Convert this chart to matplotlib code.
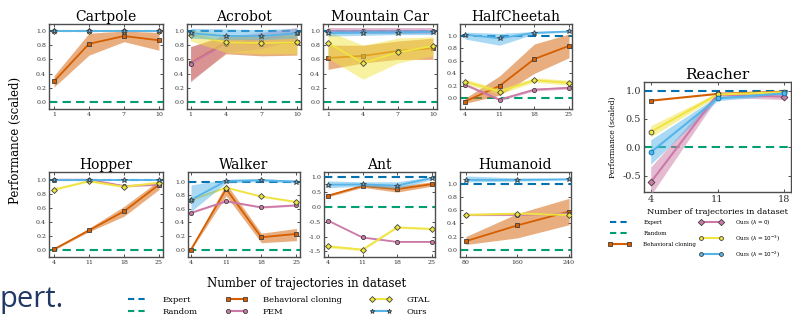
import matplotlib
matplotlib.use("Agg")
import matplotlib.pyplot as plt
from matplotlib.lines import Line2D

plt.rcParams['font.family'] = ['DejaVu Serif']

# colours
C_EXPERT = '#0072B2'
C_RANDOM = '#009E73'
C_BC = '#D55E00'
C_FEM = '#CC79A7'
C_GTAL = '#F0E442'
C_OURS = '#56B4E9'

# ---------------- data ----------------
cartpole_x = [1, 4, 7, 10]
cartpole_ours = [1.0, 1.0, 1.0, 1.0]
cartpole_ours_lo = [0.99, 0.99, 0.99, 0.99]
cartpole_ours_hi = [1.01, 1.01, 1.01, 1.01]
cartpole_bc = [0.29, 0.82, 0.93, 0.87]
cartpole_bc_lo = [0.21, 0.66, 0.85, 0.73]
cartpole_bc_hi = [0.37, 0.97, 1.0, 0.98]
cartpole_fem = [1.0, 1.0, 1.0, 1.0]
cartpole_gtal = [1.0, 1.0, 1.0, 1.0]

acrobot_x = [1, 4, 7, 10]
acrobot_ours = [0.97, 0.93, 0.93, 0.97]
acrobot_ours_lo = [0.90, 0.88, 0.88, 0.90]
acrobot_ours_hi = [1.04, 1.03, 1.02, 1.04]
acrobot_gtal = [0.95, 0.84, 0.83, 0.84]
acrobot_gtal_lo = [0.86, 0.70, 0.68, 0.68]
acrobot_gtal_hi = [1.02, 0.95, 0.95, 0.96]
acrobot_bc = [0.55, 0.84, 0.82, 0.84]
acrobot_bc_lo = [0.30, 0.68, 0.65, 0.66]
acrobot_bc_hi = [0.78, 0.95, 0.93, 0.95]
acrobot_fem = [0.54, 0.82, 0.88, 0.98]
acrobot_fem_lo = [0.28, 0.70, 0.75, 0.88]
acrobot_fem_hi = [0.78, 0.92, 0.98, 1.05]

mcar_x = [1, 4, 7, 10]
mcar_ours = [0.97, 0.98, 0.98, 0.99]
mcar_ours_lo = [0.93, 0.94, 0.95, 0.95]
mcar_ours_hi = [1.02, 1.02, 1.02, 1.02]
mcar_fem = [1.0, 1.0, 1.0, 1.0]
mcar_fem_lo = [0.96, 0.96, 0.96, 0.96]
mcar_fem_hi = [1.04, 1.04, 1.04, 1.04]
mcar_bc = [0.62, 0.65, 0.72, 0.76]
mcar_bc_lo = [0.46, 0.55, 0.60, 0.60]
mcar_bc_hi = [0.80, 0.80, 0.86, 0.90]
mcar_gtal = [0.83, 0.55, 0.70, 0.79]
mcar_gtal_lo = [0.62, 0.32, 0.55, 0.65]
mcar_gtal_hi = [1.0, 0.80, 0.90, 0.92]

cheetah_x = [4, 11, 18, 25]
cheetah_ours = [1.02, 0.96, 1.05, 1.07]
cheetah_ours_lo = [0.95, 0.85, 1.03, 1.06]
cheetah_ours_hi = [1.06, 1.04, 1.07, 1.08]
cheetah_bc = [-0.05, 0.20, 0.63, 0.84]
cheetah_bc_lo = [-0.08, 0.05, 0.40, 0.65]
cheetah_bc_hi = [0.0, 0.36, 0.87, 1.03]
cheetah_gtal = [0.27, 0.11, 0.29, 0.25]
cheetah_gtal_lo = [0.23, 0.07, 0.26, 0.21]
cheetah_gtal_hi = [0.31, 0.15, 0.33, 0.29]
cheetah_fem = [0.22, -0.02, 0.14, 0.17]
cheetah_fem_lo = [0.20, -0.04, 0.12, 0.15]
cheetah_fem_hi = [0.24, 0.0, 0.16, 0.19]

hopper_x = [4, 11, 18, 25]
hopper_ours = [1.0, 1.0, 1.0, 1.0]
hopper_fem = [1.0, 1.0, 0.91, 0.93]
hopper_gtal = [0.86, 0.98, 0.90, 0.96]
hopper_bc = [0.01, 0.28, 0.55, 0.93]
hopper_bc_lo = [0.0, 0.26, 0.48, 0.86]
hopper_bc_hi = [0.02, 0.31, 0.62, 0.99]

walker_x = [4, 11, 18, 25]
walker_ours = [0.73, 1.01, 1.02, 1.0]
walker_ours_lo = [0.56, 0.98, 1.0, 0.98]
walker_ours_hi = [0.95, 1.03, 1.04, 1.02]
walker_gtal = [0.73, 0.91, 0.78, 0.70]
walker_fem = [0.54, 0.71, 0.62, 0.65]
walker_bc = [0.0, 0.89, 0.18, 0.23]
walker_bc_lo = [-0.01, 0.79, 0.10, 0.13]
walker_bc_hi = [0.01, 0.97, 0.24, 0.31]

ant_x = [4, 11, 18, 25]
ant_ours = [0.75, 0.76, 0.72, 0.98]
ant_ours_lo = [0.65, 0.70, 0.62, 0.92]
ant_ours_hi = [0.88, 0.85, 0.85, 1.02]
ant_bc = [0.38, 0.71, 0.60, 0.77]
ant_bc_lo = [0.34, 0.66, 0.50, 0.70]
ant_bc_hi = [0.42, 0.76, 0.70, 0.85]
ant_fem = [-0.46, -1.03, -1.18, -1.18]
ant_gtal = [-1.33, -1.44, -0.69, -0.74]
ant_gtal_lo = [-1.38, -1.48, -0.72, -0.77]
ant_gtal_hi = [-1.28, -1.40, -0.66, -0.71]

humanoid_x = [80, 160, 240]
humanoid_ours = [1.06, 1.06, 1.07]
humanoid_ours_lo = [1.03, 1.04, 1.06]
humanoid_ours_hi = [1.12, 1.09, 1.08]
humanoid_gtal = [0.53, 0.55, 0.53]
humanoid_fem = [0.53, 0.53, 0.55]
humanoid_bc = [0.13, 0.37, 0.58]
humanoid_bc_lo = [0.08, 0.18, 0.38]
humanoid_bc_hi = [0.20, 0.55, 0.78]

reacher_x = [4, 11, 18]
reacher_bc = [0.82, 0.94, 0.98]
reacher_lam0 = [-0.62, 0.93, 0.89]
reacher_lam0_lo = [-0.85, 0.88, 0.84]
reacher_lam0_hi = [-0.35, 0.97, 0.95]
reacher_lam3 = [0.27, 0.93, 0.97]
reacher_lam3_lo = [0.18, 0.90, 0.95]
reacher_lam3_hi = [0.38, 0.96, 0.99]
reacher_lam2 = [-0.09, 0.86, 0.95]
reacher_lam2_lo = [-0.30, 0.82, 0.92]
reacher_lam2_hi = [0.13, 0.90, 0.98]


def band(vals, d=0.012):
    return [v - d for v in vals], [v + d for v in vals]


STYLE = {
    'bc': dict(color=C_BC, marker='s', ms=3.2, z=3),
    'fem': dict(color=C_FEM, marker='o', ms=3.0, z=4),
    'gtal': dict(color=C_GTAL, marker='D', ms=3.0, z=5),
    'ours': dict(color=C_OURS, marker='*', ms=4.0, z=6),
}


def draw_series(ax, x, key, mean, lo=None, hi=None, lw=1.3):
    s = STYLE[key]
    if lo is None:
        lo, hi = band(mean)
    ax.fill_between(x, lo, hi, color=s['color'], alpha=0.5, lw=0, zorder=s['z'] - 0.5)
    ax.plot(x, mean, color=s['color'], lw=lw, marker=s['marker'], ms=s['ms'],
            mfc=s['color'], mec='0.25', mew=0.6, zorder=s['z'])


def style_axes(ax, title, xticks, xlim, ylim, yticks, tsize=10, lsize=4.5):
    ax.axhline(1.0, color=C_EXPERT, ls='--', lw=1.5, dashes=(4, 2.5), zorder=2)
    ax.axhline(0.0, color=C_RANDOM, ls='--', lw=1.5, dashes=(4, 2.5), zorder=2)
    ax.set_title(title, fontsize=tsize, pad=2)
    ax.set_xticks(xticks)
    ax.set_yticks(yticks)
    ax.set_yticklabels(['%.1f' % t for t in yticks])
    ax.set_xlim(*xlim)
    ax.set_ylim(*ylim)
    ax.tick_params(direction='in', top=True, right=True, length=2.5, width=0.6,
                   labelsize=lsize, pad=2, colors='0.2')
    for sp in ax.spines.values():
        sp.set_color('0.3')
        sp.set_linewidth(1.0)


W, H = 792, 320
fig = plt.figure(figsize=(W / 100, H / 100), dpi=100)


def axes_px(x0, y0, x1, y1):
    return fig.add_axes([x0 / W, 1 - y1 / H, (x1 - x0) / W, (y1 - y0) / H])


y01 = [0.0, 0.2, 0.4, 0.6, 0.8, 1.0]

# Cartpole
ax = axes_px(49, 24, 163, 109)
draw_series(ax, cartpole_x, 'bc', cartpole_bc, cartpole_bc_lo, cartpole_bc_hi)
draw_series(ax, cartpole_x, 'fem', cartpole_fem)
draw_series(ax, cartpole_x, 'gtal', cartpole_gtal)
draw_series(ax, cartpole_x, 'ours', cartpole_ours, cartpole_ours_lo, cartpole_ours_hi)
style_axes(ax, 'Cartpole', cartpole_x, (0.57, 10.35), (-0.1, 1.1), y01)

# Acrobot
ax = axes_px(187, 24, 301, 109)
draw_series(ax, acrobot_x, 'bc', acrobot_bc, acrobot_bc_lo, acrobot_bc_hi)
draw_series(ax, acrobot_x, 'fem', acrobot_fem, acrobot_fem_lo, acrobot_fem_hi)
draw_series(ax, acrobot_x, 'gtal', acrobot_gtal, acrobot_gtal_lo, acrobot_gtal_hi)
draw_series(ax, acrobot_x, 'ours', acrobot_ours, acrobot_ours_lo, acrobot_ours_hi)
style_axes(ax, 'Acrobot', acrobot_x, (0.7, 10.35), (-0.1, 1.1), y01)

# Mountain Car
ax = axes_px(323, 24, 437, 109)
draw_series(ax, mcar_x, 'bc', mcar_bc, mcar_bc_lo, mcar_bc_hi)
draw_series(ax, mcar_x, 'gtal', mcar_gtal, mcar_gtal_lo, mcar_gtal_hi)
draw_series(ax, mcar_x, 'fem', mcar_fem, mcar_fem_lo, mcar_fem_hi)
draw_series(ax, mcar_x, 'ours', mcar_ours, mcar_ours_lo, mcar_ours_hi)
style_axes(ax, 'Mountain Car', mcar_x, (0.57, 10.35), (-0.1, 1.1), y01)

# HalfCheetah
ax = axes_px(460, 24, 572, 109)
draw_series(ax, cheetah_x, 'bc', cheetah_bc, cheetah_bc_lo, cheetah_bc_hi)
draw_series(ax, cheetah_x, 'fem', cheetah_fem, cheetah_fem_lo, cheetah_fem_hi)
draw_series(ax, cheetah_x, 'gtal', cheetah_gtal, cheetah_gtal_lo, cheetah_gtal_hi)
draw_series(ax, cheetah_x, 'ours', cheetah_ours, cheetah_ours_lo, cheetah_ours_hi)
style_axes(ax, 'HalfCheetah', cheetah_x, (3.0, 25.6), (-0.17, 1.19), y01)

# Hopper
ax = axes_px(49, 172, 163, 257)
draw_series(ax, hopper_x, 'bc', hopper_bc, hopper_bc_lo, hopper_bc_hi)
draw_series(ax, hopper_x, 'gtal', hopper_gtal)
draw_series(ax, hopper_x, 'fem', hopper_fem)
draw_series(ax, hopper_x, 'ours', hopper_ours)
style_axes(ax, 'Hopper', hopper_x, (3.0, 25.8), (-0.1, 1.11), y01)

# Walker
ax = axes_px(188, 172, 300, 257)
draw_series(ax, walker_x, 'bc', walker_bc, walker_bc_lo, walker_bc_hi)
draw_series(ax, walker_x, 'fem', walker_fem)
draw_series(ax, walker_x, 'gtal', walker_gtal)
draw_series(ax, walker_x, 'ours', walker_ours, walker_ours_lo, walker_ours_hi)
style_axes(ax, 'Walker', walker_x, (3.4, 25.7), (-0.11, 1.14), y01)

# Ant
ax = axes_px(324, 172, 435, 257)
draw_series(ax, ant_x, 'fem', ant_fem)
draw_series(ax, ant_x, 'gtal', ant_gtal, ant_gtal_lo, ant_gtal_hi)
draw_series(ax, ant_x, 'bc', ant_bc, ant_bc_lo, ant_bc_hi)
draw_series(ax, ant_x, 'ours', ant_ours, ant_ours_lo, ant_ours_hi)
style_axes(ax, 'Ant', ant_x, (3.2, 25.67), (-1.69, 1.18), [-1.5, -1.0, -0.5, 0.0, 0.5, 1.0])

# Humanoid
ax = axes_px(460, 172, 571, 257)
draw_series(ax, humanoid_x, 'bc', humanoid_bc, humanoid_bc_lo, humanoid_bc_hi)
draw_series(ax, humanoid_x, 'fem', humanoid_fem)
draw_series(ax, humanoid_x, 'gtal', humanoid_gtal)
draw_series(ax, humanoid_x, 'ours', humanoid_ours, humanoid_ours_lo, humanoid_ours_hi)
style_axes(ax, 'Humanoid', humanoid_x, (71, 243), (-0.11, 1.18), y01)

# Reacher
ax = axes_px(644, 82, 791, 192)
ax.fill_between(reacher_x, reacher_lam0_lo, reacher_lam0_hi, color=C_FEM, alpha=0.5, lw=0, zorder=3)
ax.fill_between(reacher_x, reacher_lam3_lo, reacher_lam3_hi, color=C_GTAL, alpha=0.5, lw=0, zorder=3)
ax.fill_between(reacher_x, reacher_lam2_lo, reacher_lam2_hi, color=C_OURS, alpha=0.5, lw=0, zorder=3)
ax.plot(reacher_x, reacher_bc, color=C_BC, lw=1.5, marker='s', ms=3.5, mec='0.25', mew=0.6, zorder=4)
ax.plot(reacher_x, reacher_lam0, color=C_FEM, lw=1.5, marker='D', ms=3.5, mec='0.25', mew=0.6, zorder=5)
ax.plot(reacher_x, reacher_lam3, color=C_GTAL, lw=1.5, marker='o', ms=3.5, mec='0.25', mew=0.6, zorder=6)
ax.plot(reacher_x, reacher_lam2, color=C_OURS, lw=1.5, marker='o', ms=3.5, mec=C_EXPERT, mew=0.6, zorder=7)
style_axes(ax, 'Reacher', reacher_x, (3.3, 18.7), (-0.79, 1.15), [-0.5, 0.0, 0.5, 1.0],
           tsize=11, lsize=7)
ax.set_xlabel('Number of trajectories in dataset', fontsize=6, labelpad=3)
ax.set_ylabel('Performance (scaled)', fontsize=5.5, labelpad=4)

# shared labels for the 8-panel grid
fig.text(15 / W, 1 - 140 / H, 'Performance (scaled)', rotation=90, fontsize=8.5,
         ha='center', va='center')
fig.text(307 / W, 1 - 283 / H, 'Number of trajectories in dataset', fontsize=8.5,
         ha='center', va='center')

# main legend
def h(color, marker=None, ls='-', ms=3.0, dashes=None):
    kw = dict(color=color, lw=1.5, ls=ls, marker=marker, ms=ms, mec='0.25', mew=0.6)
    if dashes is not None:
        kw['dashes'] = dashes
    return Line2D([], [], **kw)


main_handles = [
    h(C_EXPERT, ls='--', dashes=(3, 2)), h(C_RANDOM, ls='--', dashes=(3, 2)),
    h(C_BC, 's'), h(C_FEM, 'o'),
    h(C_GTAL, 'D'), h(C_OURS, '*', ms=3.5),
]
main_labels = ['Expert', 'Random', 'Behavioral cloning', 'FEM', 'GTAL', 'Ours']
fig.legend(main_handles, main_labels, ncol=3, loc='center',
           bbox_to_anchor=(278 / W, 1 - 306 / H), frameon=False, fontsize=6,
           numpoints=2, handlelength=2.6, handletextpad=1.8, columnspacing=3.4,
           labelspacing=0.45)

# reacher legend
r_handles = [
    h(C_EXPERT, ls='--', dashes=(3, 2)), h(C_RANDOM, ls='--', dashes=(3, 2)),
    h(C_BC, 's', ms=3.2),
    h(C_FEM, 'D', ms=3.2), h(C_GTAL, 'o', ms=2.8), h(C_OURS, 'o', ms=2.8),
]
r_labels = ['Expert', 'Random', 'Behavioral cloning',
            r'Ours ($\lambda=0$)', r'Ours ($\lambda=10^{-3}$)', r'Ours ($\lambda=10^{-2}$)']
fig.legend(r_handles, r_labels, ncol=2, loc='center left',
           bbox_to_anchor=(607 / W, 1 - 238 / H), frameon=False, fontsize=4.1,
           numpoints=2, handlelength=4.0, handletextpad=2.2, columnspacing=0.6,
           labelspacing=1.1, borderaxespad=0, borderpad=0.2)

# slide text cut at the left edge
fig.text(0.0, 1 - 307 / H, 'pert.', fontsize=21, color='#1F3864',
         family='Open Sans', ha='left', va='baseline')

fig.savefig('out.png', dpi=100)
